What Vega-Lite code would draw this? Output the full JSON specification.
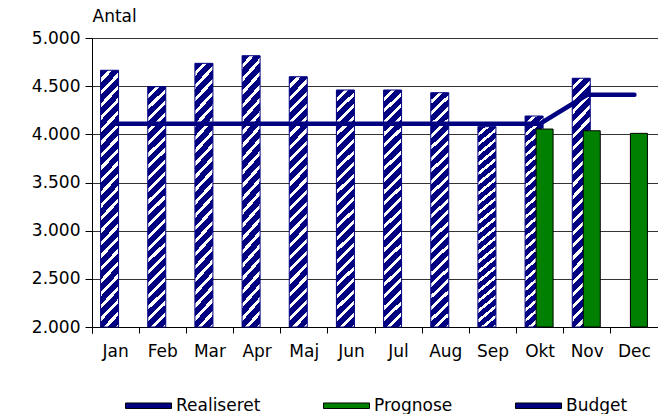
{
  "$schema": "https://vega.github.io/schema/vega-lite/v6.json",
  "autosize": {"type": "none"},
  "width": 566,
  "height": 289,
  "padding": {"left": 92, "top": 38, "right": 0, "bottom": 87},
  "background": "white",
  "config": {
    "view": {"stroke": null},
    "font": "DejaVu Sans"
  },
  "resolve": {"legend": {"color": "independent"}},
  "data": {
    "values": [
      {"month": "Jan", "series": "Realiseret", "value": 4665},
      {"month": "Feb", "series": "Realiseret", "value": 4495},
      {"month": "Mar", "series": "Realiseret", "value": 4737},
      {"month": "Apr", "series": "Realiseret", "value": 4816},
      {"month": "Maj", "series": "Realiseret", "value": 4598},
      {"month": "Jun", "series": "Realiseret", "value": 4460},
      {"month": "Jul", "series": "Realiseret", "value": 4460},
      {"month": "Aug", "series": "Realiseret", "value": 4432},
      {"month": "Sep", "series": "Realiseret", "value": 4080},
      {"month": "Okt", "series": "Realiseret", "value": 4190},
      {"month": "Nov", "series": "Realiseret", "value": 4582},
      {"month": "Okt", "series": "Prognose", "value": 4055},
      {"month": "Nov", "series": "Prognose", "value": 4037},
      {"month": "Dec", "series": "Prognose", "value": 4010},
      {"month": "Jan", "series": "Budget", "value": 4110},
      {"month": "Feb", "series": "Budget", "value": 4110},
      {"month": "Mar", "series": "Budget", "value": 4110},
      {"month": "Apr", "series": "Budget", "value": 4110},
      {"month": "Maj", "series": "Budget", "value": 4110},
      {"month": "Jun", "series": "Budget", "value": 4110},
      {"month": "Jul", "series": "Budget", "value": 4110},
      {"month": "Aug", "series": "Budget", "value": 4110},
      {"month": "Sep", "series": "Budget", "value": 4110},
      {"month": "Okt", "series": "Budget", "value": 4110},
      {"month": "Nov", "series": "Budget", "value": 4410},
      {"month": "Dec", "series": "Budget", "value": 4410}
    ]
  },
  "encoding": {
    "x": {
      "field": "month",
      "type": "ordinal",
      "sort": ["Jan", "Feb", "Mar", "Apr", "Maj", "Jun", "Jul", "Aug", "Sep", "Okt", "Nov", "Dec"],
      "scale": {"paddingInner": 0, "paddingOuter": 0},
      "axis": {
        "title": null,
        "labelAngle": 0,
        "labelFont": "DejaVu Sans",
        "labelFontSize": 17,
        "labelColor": "#000000",
        "labelPadding": 10,
        "tickColor": "#000000",
        "tickSize": 6,
        "domainColor": "#000000",
        "bandPosition": 0,
        "tickExtra": true,
        "grid": false
      }
    },
    "y": {
      "field": "value",
      "type": "quantitative",
      "scale": {"domain": [2000, 5000], "nice": false, "zero": false},
      "axis": {
        "title": "Antal",
        "titleAngle": 0,
        "titleX": 0,
        "titleY": -17,
        "titleAlign": "left",
        "titleBaseline": "alphabetic",
        "titleFont": "DejaVu Sans",
        "titleFontSize": 17,
        "titleFontWeight": "normal",
        "titleColor": "#000000",
        "values": [2000, 2500, 3000, 3500, 4000, 4500, 5000],
        "labelExpr": "replace(format(datum.value, ','), ',', '.')",
        "labelFont": "DejaVu Sans",
        "labelFontSize": 17,
        "labelColor": "#000000",
        "labelPadding": 5,
        "tickColor": "#000000",
        "tickSize": 7,
        "domainColor": "#000000",
        "grid": true,
        "gridColor": "#333333",
        "gridOpacity": 1,
        "gridWidth": 1
      }
    }
  },
  "layer": [
    {
      "transform": [{"filter": "datum.series === 'Realiseret'"}],
      "mark": {"type": "bar", "width": 18, "xOffset": -6, "stroke": "#000080", "strokeWidth": 1},
      "encoding": {
        "y2": {"datum": 2000},
        "fill": {"value": {
          "gradient": "linear", "x1": 0, "y1": 0, "x2": 1, "y2": 13.6,
          "stops": [
            {"offset": 0, "color": "#000080"}, {"offset": 0.00233, "color": "#000080"}, {"offset": 0.00233, "color": "#ffffff"}, {"offset": 0.00358, "color": "#ffffff"},
            {"offset": 0.00358, "color": "#000080"}, {"offset": 0.00591, "color": "#000080"}, {"offset": 0.00591, "color": "#ffffff"}, {"offset": 0.00716, "color": "#ffffff"},
            {"offset": 0.00716, "color": "#000080"}, {"offset": 0.00949, "color": "#000080"}, {"offset": 0.00949, "color": "#ffffff"}, {"offset": 0.01074, "color": "#ffffff"},
            {"offset": 0.01074, "color": "#000080"}, {"offset": 0.01307, "color": "#000080"}, {"offset": 0.01307, "color": "#ffffff"}, {"offset": 0.01432, "color": "#ffffff"},
            {"offset": 0.01432, "color": "#000080"}, {"offset": 0.01665, "color": "#000080"}, {"offset": 0.01665, "color": "#ffffff"}, {"offset": 0.0179, "color": "#ffffff"},
            {"offset": 0.0179, "color": "#000080"}, {"offset": 0.02023, "color": "#000080"}, {"offset": 0.02023, "color": "#ffffff"}, {"offset": 0.02148, "color": "#ffffff"},
            {"offset": 0.02148, "color": "#000080"}, {"offset": 0.02381, "color": "#000080"}, {"offset": 0.02381, "color": "#ffffff"}, {"offset": 0.02506, "color": "#ffffff"},
            {"offset": 0.02506, "color": "#000080"}, {"offset": 0.02739, "color": "#000080"}, {"offset": 0.02739, "color": "#ffffff"}, {"offset": 0.02864, "color": "#ffffff"},
            {"offset": 0.02864, "color": "#000080"}, {"offset": 0.03097, "color": "#000080"}, {"offset": 0.03097, "color": "#ffffff"}, {"offset": 0.03222, "color": "#ffffff"},
            {"offset": 0.03222, "color": "#000080"}, {"offset": 0.03455, "color": "#000080"}, {"offset": 0.03455, "color": "#ffffff"}, {"offset": 0.0358, "color": "#ffffff"},
            {"offset": 0.0358, "color": "#000080"}, {"offset": 0.03813, "color": "#000080"}, {"offset": 0.03813, "color": "#ffffff"}, {"offset": 0.03938, "color": "#ffffff"},
            {"offset": 0.03938, "color": "#000080"}, {"offset": 0.04171, "color": "#000080"}, {"offset": 0.04171, "color": "#ffffff"}, {"offset": 0.04296, "color": "#ffffff"},
            {"offset": 0.04296, "color": "#000080"}, {"offset": 0.04529, "color": "#000080"}, {"offset": 0.04529, "color": "#ffffff"}, {"offset": 0.04654, "color": "#ffffff"},
            {"offset": 0.04654, "color": "#000080"}, {"offset": 0.04887, "color": "#000080"}, {"offset": 0.04887, "color": "#ffffff"}, {"offset": 0.05012, "color": "#ffffff"},
            {"offset": 0.05012, "color": "#000080"}, {"offset": 0.05245, "color": "#000080"}, {"offset": 0.05245, "color": "#ffffff"}, {"offset": 0.0537, "color": "#ffffff"},
            {"offset": 0.0537, "color": "#000080"}, {"offset": 0.05603, "color": "#000080"}, {"offset": 0.05603, "color": "#ffffff"}, {"offset": 0.05728, "color": "#ffffff"},
            {"offset": 0.05728, "color": "#000080"}, {"offset": 0.05961, "color": "#000080"}, {"offset": 0.05961, "color": "#ffffff"}, {"offset": 0.06086, "color": "#ffffff"},
            {"offset": 0.06086, "color": "#000080"}, {"offset": 0.06319, "color": "#000080"}, {"offset": 0.06319, "color": "#ffffff"}, {"offset": 0.06444, "color": "#ffffff"},
            {"offset": 0.06444, "color": "#000080"}, {"offset": 0.06677, "color": "#000080"}, {"offset": 0.06677, "color": "#ffffff"}, {"offset": 0.06802, "color": "#ffffff"},
            {"offset": 0.06802, "color": "#000080"}, {"offset": 0.07035, "color": "#000080"}, {"offset": 0.07035, "color": "#ffffff"}, {"offset": 0.0716, "color": "#ffffff"},
            {"offset": 0.0716, "color": "#000080"}, {"offset": 0.07393, "color": "#000080"}, {"offset": 0.07393, "color": "#ffffff"}, {"offset": 0.07518, "color": "#ffffff"},
            {"offset": 0.07518, "color": "#000080"}, {"offset": 0.07751, "color": "#000080"}, {"offset": 0.07751, "color": "#ffffff"}, {"offset": 0.07876, "color": "#ffffff"}
          ]
        }}
      }
    },
    {
      "transform": [{"filter": "datum.series === 'Prognose'"}],
      "mark": {"type": "bar", "width": 17, "xOffset": 4.5, "stroke": "#000000", "strokeWidth": 1},
      "encoding": {
        "y2": {"datum": 2000},
        "color": {
          "field": "series",
          "type": "nominal",
          "scale": {"domain": ["Realiseret", "Prognose", "Budget"], "range": ["#000080", "#008000", "#000080"]},
          "legend": {
            "title": null,
            "orient": "none",
            "direction": "horizontal",
            "legendX": 33,
            "legendY": 344,
            "padding": 0,
            "columnPadding": 60,
            "gridAlign": "each",
            "symbolSize": 2116,
            "symbolType": "M-1,-0.12H1V0.12H-1Z",
            "symbolStrokeWidth": 1,
            "labelOffset": 4,
            "labelFont": "DejaVu Sans",
            "labelFontSize": 17,
            "labelColor": "#000000"
          }
        }
      }
    },
    {
      "transform": [{"filter": "datum.series === 'Budget'"}],
      "mark": {"type": "line", "strokeWidth": 4.5, "strokeCap": "round"},
      "encoding": {
        "color": {
          "field": "series",
          "type": "nominal",
          "scale": {"domain": ["Realiseret", "Prognose", "Budget"], "range": ["#000080", "#008000", "#000080"]},
          "legend": null
        }
      }
    }
  ]
}
